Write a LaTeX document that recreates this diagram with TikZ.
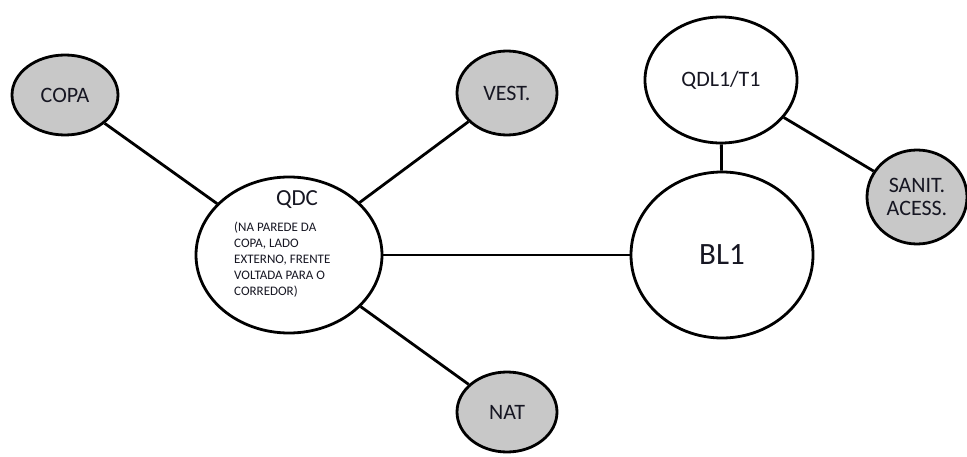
\documentclass[tikz,border=0pt]{standalone}
\usepackage{fontspec}
\setmainfont{Carlito}
\usetikzlibrary{shapes.geometric}
\definecolor{circgray}{RGB}{200,200,200}
\definecolor{labelink}{RGB}{22,22,34}

\begin{document}
\begin{tikzpicture}[x=1pt,y=1pt,
  circ/.style={ellipse,draw=black,line width=2.8pt,inner sep=0pt,text=labelink},
  load/.style={circ,fill=circgray},
  wire/.style={line width=2.8pt}]
\useasboundingbox (0,0) rectangle (967,456);
\node[load,minimum width=106,minimum height=80,font=\fontsize{22}{24}\selectfont] (copa) at (65,361) {COPA};
\node[load,minimum width=100,minimum height=84,font=\fontsize{22}{24}\selectfont] (vest) at (507,363) {VEST.};
\node[load,minimum width=100,minimum height=80,font=\fontsize{22}{24}\selectfont] (nat) at (507,44) {NAT};
\node[circ,minimum width=186,minimum height=156] (qdc) at (289,201) {};
\node[text=labelink,font=\fontsize{23}{25}\selectfont] (qdclabel) at (297,256) {QDC};
\node[text=labelink,font=\fontsize{13}{16}\selectfont,align=left,anchor=north west,inner sep=0pt] (qdcnote) at (234,234) {(NA PAREDE DA\\COPA, LADO\\EXTERNO, FRENTE\\VOLTADA PARA O\\CORREDOR)};
\node[circ,minimum width=182,minimum height=166,font=\fontsize{31}{33}\selectfont] (bl1) at (722,201) {BL1};
\node[circ,minimum width=152,minimum height=126,font=\fontsize{22}{24}\selectfont] (qdl) at (721,376) {QDL1/T1};
\node[load,minimum width=100,minimum height=94,align=center,font=\fontsize{22}{23}\selectfont] (sanit) at (917,259) {SANIT.\\ACESS.};
\draw[wire] (copa) -- (qdc);
\draw[wire] (vest) -- (qdc);
\draw[wire] (nat) -- (qdc);
\draw[wire] (qdc) -- (bl1);
\draw[wire] (qdl) -- (bl1);
\draw[wire] (qdl) -- (sanit);
\end{tikzpicture}
\end{document}
